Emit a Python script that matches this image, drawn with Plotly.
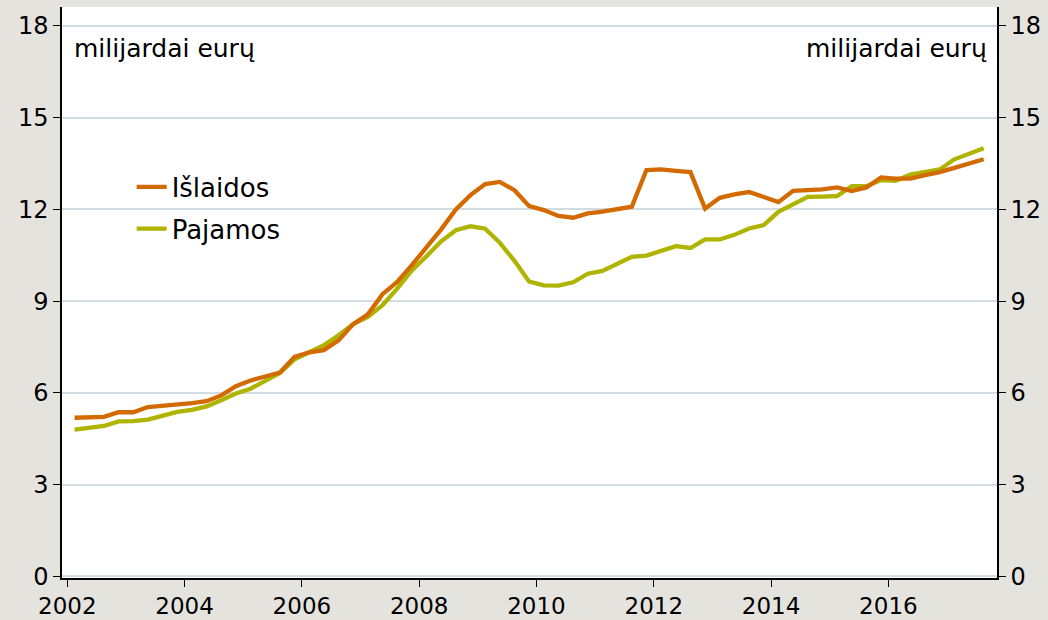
import plotly.graph_objects as go

# Quarterly data 2002Q1 .. 2017Q3 (billion euro)
start_year = 2002
n_quarters = 63
quarters = [start_year + 0.125 + 0.25 * i for i in range(n_quarters)]

islaidos = [5.19, 5.19, 5.22, 5.37, 5.37, 5.54, 5.58, 5.60, 5.67, 5.73,
            5.92, 6.22, 6.41, 6.54, 6.67, 7.18, 7.33, 7.40, 7.72, 8.25,
            8.57, 9.23, 9.63, 10.18, 10.75, 11.35, 12.00, 12.47, 12.83, 12.90,
            12.63, 12.11, 11.98, 11.79, 11.73, 11.87, 11.93, 12.00, 12.09, 13.29,
            13.31, 13.26, 13.22, 12.03, 12.38, 12.49, 12.57, 12.41, 12.24, 12.61,
            12.63, 12.66, 12.72, 12.60, 12.72, 13.05, 13.01, 13.01, 13.12, 13.22,
            13.36, 13.50, 13.64]

pajamos = [4.80, 4.87, 4.92, 5.07, 5.08, 5.13, 5.24, 5.38, 5.45, 5.56,
           5.76, 5.98, 6.14, 6.41, 6.65, 7.10, 7.34, 7.56, 7.89, 8.25,
           8.49, 8.87, 9.41, 10.01, 10.47, 10.96, 11.32, 11.45, 11.37, 10.91,
           10.32, 9.64, 9.52, 9.51, 9.62, 9.90, 9.99, 10.23, 10.45, 10.49,
           10.65, 10.80, 10.74, 11.02, 11.02, 11.17, 11.38, 11.49, 11.92, 12.17,
           12.41, 12.42, 12.44, 12.76, 12.76, 12.96, 12.94, 13.14, 13.21, 13.31,
           13.64, 13.81, 14.00]

x_ticks = [2002, 2004, 2006, 2008, 2010, 2012, 2014, 2016]
y_ticks = [0, 3, 6, 9, 12, 15, 18]
unit_label = "milijardai eurų"

ORANGE = "#d36a00"
GREEN = "#afb400"
FONT = "DejaVu Sans"

fig = go.Figure()
fig.add_trace(go.Scatter(x=quarters, y=pajamos, mode="lines", name="Pajamos",
                         legendgroup="p", legendrank=2,
                         line=dict(color=GREEN, width=4.3)))
fig.add_trace(go.Scatter(x=quarters, y=islaidos, mode="lines", name="Išlaidos",
                         legendgroup="i", legendrank=1,
                         line=dict(color=ORANGE, width=4.3)))
# invisible copy on the right-hand axis so that it is drawn
fig.add_trace(go.Scatter(x=quarters, y=islaidos, mode="lines", yaxis="y2",
                         showlegend=False, hoverinfo="skip", opacity=0,
                         line=dict(color=ORANGE, width=0)))

yrange = [-0.05, 18.62]
axis_common = dict(
    showline=True, linecolor="black", linewidth=1.5,
    ticks="outside", ticklen=7, tickwidth=1.2, tickcolor="black",
    zeroline=False, automargin=False,
)
yfont = dict(family=FONT, size=24, color="black")
xfont = dict(family=FONT, size=23, color="black")

fig.update_layout(
    width=1048, height=620,
    paper_bgcolor="#e5e3de", plot_bgcolor="white",
    margin=dict(l=62, r=51, t=7, b=42),
    font=dict(family=FONT, size=24, color="black"),
    xaxis=dict(range=[2001.91, 2017.852], tickvals=x_ticks, showgrid=False,
               tickfont=xfont, **axis_common),
    yaxis=dict(range=yrange, tickvals=y_ticks, showgrid=True,
               gridcolor="#d2dce3", gridwidth=1.5, tickfont=yfont,
               **axis_common),
    yaxis2=dict(range=yrange, tickvals=y_ticks, overlaying="y", side="right",
                showgrid=False, tickfont=yfont, **axis_common),
    legend=dict(x=0.0745, y=0.726, xanchor="left", yanchor="top",
                bgcolor="rgba(0,0,0,0)", traceorder="grouped",
                tracegroupgap=5,
                font=dict(family=FONT, size=26, color="black"),
                itemwidth=30),
    showlegend=True,
    annotations=[
        dict(text=unit_label, xref="paper", yref="paper", x=0.011, y=0.928,
             xanchor="left", yanchor="middle", showarrow=False,
             font=dict(family=FONT, size=25, color="black")),
        dict(text=unit_label, xref="paper", yref="paper", x=0.991, y=0.928,
             xanchor="right", yanchor="middle", showarrow=False,
             font=dict(family=FONT, size=25, color="black")),
    ],
)

fig.write_html("out.html",
               config={"displayModeBar": False},
               post_script="document.body.style.margin='0px';"
                           "document.body.style.background='#e5e3de';")
